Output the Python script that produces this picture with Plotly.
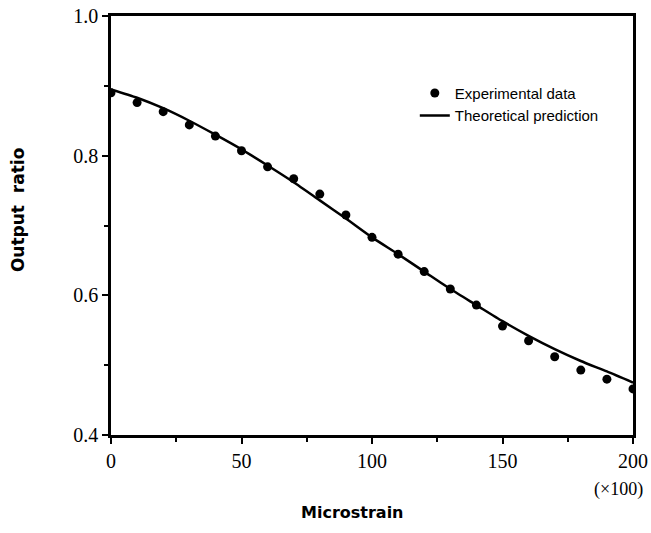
import plotly.graph_objects as go

# Measured output ratio vs. applied strain (x100 microstrain)
strain_exp = [0, 10, 20, 30, 40, 50, 60, 70, 80, 90, 100,
              110, 120, 130, 140, 150, 160, 170, 180, 190, 200]
ratio_exp = [0.890, 0.876, 0.863, 0.844, 0.828, 0.807, 0.784, 0.767, 0.745, 0.715, 0.683,
             0.659, 0.634, 0.609, 0.586, 0.556, 0.535, 0.512, 0.493, 0.480, 0.466]

# Theoretical prediction curve
strain_th = [0, 10, 20, 30, 40, 50, 60, 70, 80, 90, 100,
             110, 120, 130, 140, 150, 160, 170, 180, 190, 200]
ratio_th = [0.895, 0.883, 0.868, 0.850, 0.830, 0.809, 0.786, 0.762, 0.736, 0.710, 0.683,
            0.659, 0.634, 0.609, 0.586, 0.563, 0.542, 0.523, 0.506, 0.491, 0.475]

x_ticks = [0, 50, 100, 150, 200]
y_ticks = [0.4, 0.6, 0.8, 1.0]
y_ticklabels = ["0.4", "0.6", "0.8", "1.0"]

serif = "Liberation Serif"
sans = "Liberation Sans"
bold_sans = "DejaVu Sans"

fig = go.Figure()
fig.add_trace(go.Scatter(
    x=strain_exp, y=ratio_exp, mode="markers", name="Experimental data",
    marker=dict(color="black", size=9, symbol="circle"),
))
fig.add_trace(go.Scatter(
    x=strain_th, y=ratio_th, mode="lines", name="Theoretical prediction",
    line=dict(color="black", width=2.5, shape="spline", smoothing=0.6),
))

axis_common = dict(
    showline=True, linecolor="black", linewidth=2.5, mirror=True,
    showgrid=False, zeroline=False, automargin=False,
    ticks="outside", ticklen=6, tickwidth=2, tickcolor="black",
    tickfont=dict(family=serif, size=20, color="black"),
)

fig.update_xaxes(
    range=[0, 200], tickvals=x_ticks,
    minor=dict(dtick=25, ticks="outside", ticklen=4, tickwidth=1.5, tickcolor="black", showgrid=False),
    **axis_common,
)
fig.update_yaxes(
    range=[0.4, 1.0], tickvals=y_ticks, ticktext=y_ticklabels,
    minor=dict(dtick=0.1, ticks="outside", ticklen=4, tickwidth=1.5, tickcolor="black", showgrid=False),
    **axis_common,
)

fig.add_annotation(
    text="Microstrain", xref="paper", yref="paper", x=0.4617, y=-0.186,
    showarrow=False, xanchor="center", yanchor="middle",
    font=dict(family=bold_sans, size=16, color="black", weight="bold"),
)
fig.add_annotation(
    text="Output\u00a0\u00a0ratio", xref="paper", yref="paper", x=-0.178, y=0.537,
    showarrow=False, xanchor="center", yanchor="middle", textangle=-90,
    font=dict(family=bold_sans, size=17, color="black", weight="bold"),
)
fig.add_annotation(
    text="(\u00d7100)", xref="paper", yref="paper", x=0.973, y=-0.131,
    showarrow=False, xanchor="center", yanchor="middle",
    font=dict(family=serif, size=18, color="black"),
)

fig.update_layout(
    width=651, height=533,
    margin=dict(l=111, r=18, t=16, b=98),
    paper_bgcolor="white", plot_bgcolor="white",
    showlegend=True,
    legend=dict(
        x=0.582, y=0.855, xanchor="left", yanchor="top",
        bgcolor="rgba(0,0,0,0)", borderwidth=0,
        font=dict(family=sans, size=15, color="black"),
        itemwidth=30, tracegroupgap=4,
    ),
)

fig.write_html("out.html")
